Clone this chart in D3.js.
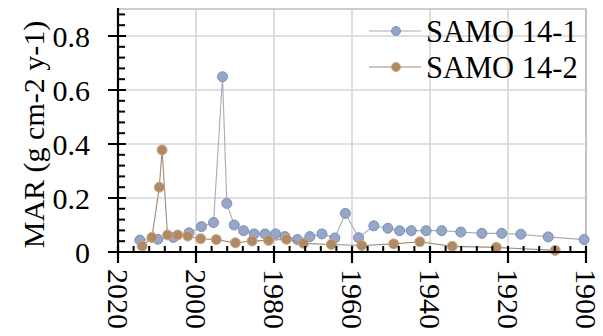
<!DOCTYPE html>
<html>
<head>
<meta charset="utf-8">
<script src="https://cdn.jsdelivr.net/npm/d3@7"></script>
<style>
  html, body { margin: 0; padding: 0; background: #fff; }
  svg { display: block; }
</style>
</head>
<body>
<svg id="chart" width="603" height="336" font-family="'Liberation Serif', 'DejaVu Serif', serif"></svg>
<script>
// Core SAMO 14-1: date (year AD) and mass accumulation rate (g cm-2 y-1)
const years1 = [2014.4, 2009.8, 2005.8, 2001.8, 1998.6, 1995.5, 1993.2, 1992.1, 1990.2, 1987.8,
                1985.1, 1982.3, 1979.6, 1977.2, 1974.0, 1970.8, 1967.7, 1964.4, 1961.7, 1958.3,
                1954.4, 1950.8, 1947.8, 1944.8, 1941.0, 1937.0, 1932.1, 1926.7, 1921.6, 1916.7,
                1909.7, 1900.5];
const mar1   = [0.044, 0.047, 0.054, 0.071, 0.094, 0.109, 0.649, 0.180, 0.100, 0.079,
                0.067, 0.067, 0.067, 0.057, 0.046, 0.057, 0.067, 0.052, 0.143, 0.053,
                0.097, 0.088, 0.079, 0.079, 0.079, 0.079, 0.074, 0.069, 0.069, 0.066,
                0.056, 0.046];

// Core SAMO 14-2
const years2 = [2013.8, 2011.3, 2009.4, 2008.7, 2007.3, 2004.7, 2002.1, 1998.8, 1994.8, 1989.9,
                1985.6, 1981.4, 1976.8, 1972.4, 1965.3, 1957.5, 1949.3, 1942.6, 1934.3, 1923.0,
                1907.9];
const mar2   = [0.022, 0.054, 0.240, 0.378, 0.063, 0.063, 0.059, 0.049, 0.046, 0.034,
                0.041, 0.043, 0.047, 0.032, 0.028, 0.024, 0.030, 0.038, 0.021, 0.017,
                0.006];

const seriesNames = ["SAMO 14-1", "SAMO 14-2"];
const xTicks = [2020, 2000, 1980, 1960, 1940, 1920, 1900];
const yTicks = [0, 0.2, 0.4, 0.6, 0.8];
const xDomain = [2020, 1900];
const yDomain = [0, 0.9];

const svg = d3.select("#chart");
const plot = { left: 118, right: 586, top: 9, bottom: 252 };
const serif = "'Liberation Serif', 'DejaVu Serif', serif";

const x = d3.scaleLinear().domain(xDomain).range([plot.left, plot.right]);
const y = d3.scaleLinear().domain(yDomain).range([plot.bottom, plot.top]);

const styles = [
  { fill: "#95a6c6", stroke: "#7a90ba", line: "#a9acb2" },
  { fill: "#b08967", stroke: "#d2a67e", line: "#a08a78" }
];

// gridlines
const grid = svg.append("g").attr("stroke", "#d6d6d6").attr("stroke-width", 1.6);
grid.selectAll("line.gx").data(xTicks.slice(1)).join("line")
  .attr("x1", d => x(d)).attr("x2", d => x(d))
  .attr("y1", plot.top).attr("y2", plot.bottom);
grid.selectAll("line.gy").data(yTicks.slice(1)).join("line")
  .attr("x1", plot.left).attr("x2", plot.right)
  .attr("y1", d => y(d)).attr("y2", d => y(d));
// frame on top and right
svg.append("path")
  .attr("d", `M${plot.left},${plot.top}H${plot.right}V${plot.bottom}`)
  .attr("fill", "none").attr("stroke", "#bdbdbd").attr("stroke-width", 1.6);

// series
const series = [
  years1.map((yr, i) => ({ year: yr, v: mar1[i] })),
  years2.map((yr, i) => ({ year: yr, v: mar2[i] }))
];
const line = d3.line().x(d => x(d.year)).y(d => y(d.v));
series.forEach((data, k) => {
  const g = svg.append("g");
  g.append("path").datum(data).attr("d", line)
    .attr("fill", "none").attr("stroke", styles[k].line).attr("stroke-width", 1.1);
  g.selectAll("circle").data(data).join("circle")
    .attr("cx", d => x(d.year)).attr("cy", d => y(d.v)).attr("r", 5)
    .attr("fill", styles[k].fill).attr("stroke", styles[k].stroke).attr("stroke-width", 1);
});

// y axis with minor ticks
const axisG = svg.append("g").attr("stroke", "#000");
axisG.append("line").attr("x1", plot.left).attr("x2", plot.left)
  .attr("y1", plot.top - 1).attr("y2", plot.bottom + 1).attr("stroke-width", 2.2);
const yMinor = d3.range(0.04, 0.9, 0.04).filter(v => Math.abs(v / 0.2 - Math.round(v / 0.2)) > 1e-6);
axisG.selectAll("line.ym").data(yMinor).join("line")
  .attr("x1", plot.left).attr("x2", plot.left + 7)
  .attr("y1", d => y(d)).attr("y2", d => y(d)).attr("stroke-width", 2);
axisG.selectAll("line.yM").data(yTicks).join("line")
  .attr("x1", plot.left - 10).attr("x2", plot.left + 8)
  .attr("y1", d => y(d)).attr("y2", d => y(d)).attr("stroke-width", 2);

// x axis with minor ticks
axisG.append("line").attr("x1", plot.left - 10).attr("x2", plot.right + 1)
  .attr("y1", plot.bottom).attr("y2", plot.bottom).attr("stroke-width", 2.2);
const xMinor = d3.range(2016, 1900, -4).filter(v => v % 20 !== 0);
axisG.selectAll("line.xm").data(xMinor).join("line")
  .attr("x1", d => x(d)).attr("x2", d => x(d))
  .attr("y1", plot.bottom - 6).attr("y2", plot.bottom).attr("stroke-width", 2);
axisG.selectAll("line.xM").data(xTicks).join("line")
  .attr("x1", d => x(d)).attr("x2", d => x(d))
  .attr("y1", plot.bottom - 6).attr("y2", plot.bottom + 11).attr("stroke-width", 2.2);

// tick labels
svg.selectAll("text.yl").data(yTicks).join("text")
  .attr("class", "yl").attr("font-family", serif)
  .attr("x", 90).attr("y", d => y(d)).attr("dy", "0.35em")
  .attr("text-anchor", "end").attr("font-size", 30)
  .text(d => d === 0 ? "0" : d3.format(".1f")(d));

svg.selectAll("text.xl").data(xTicks).join("text")
  .attr("class", "xl").attr("font-family", serif)
  .attr("transform", d => `translate(${x(d)},${plot.bottom + 17}) rotate(90)`)
  .attr("dy", "0.35em").attr("text-anchor", "start").attr("font-size", 30)
  .text(d => d);

// axis title
svg.append("text").attr("font-family", serif)
  .attr("transform", `translate(44,${(plot.top + plot.bottom) / 2 + 4}) rotate(-90)`)
  .attr("text-anchor", "middle").attr("font-size", 30)
  .text("MAR (g cm-2 y-1)");

// legend
const legend = svg.append("g");
seriesNames.forEach((name, k) => {
  const cy = 31 + k * 36;
  legend.append("line").attr("x1", 369).attr("x2", 421).attr("y1", cy).attr("y2", cy)
    .attr("stroke", styles[k].line).attr("stroke-width", 1.1);
  legend.append("circle").attr("cx", 396).attr("cy", cy).attr("r", 4.5)
    .attr("fill", styles[k].fill).attr("stroke", styles[k].stroke).attr("stroke-width", 1);
  legend.append("text").attr("font-family", serif)
    .attr("x", 426).attr("y", cy).attr("dy", "0.35em")
    .attr("font-size", 30.5).text(name);
});
</script>
</body>
</html>
